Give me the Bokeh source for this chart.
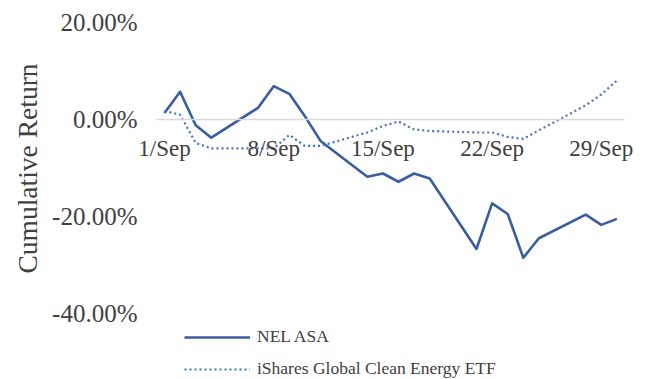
from bokeh.plotting import figure
from bokeh.models import Range1d, FixedTicker, PrintfTickFormatter, Legend, LegendItem, Title
from bokeh.embed import file_html
from bokeh.resources import INLINE

# Trading days of September (day of month)
nel_days = [1, 2, 3, 4, 7, 8, 9, 10, 11, 14, 15, 16, 17, 18, 21, 22, 23, 24, 25, 28, 29, 30]
nel_return = [1.33, 5.71, -1.19, -3.74, 2.42, 6.88, 5.30, 0.68, -4.41, -11.81, -11.13, -12.83,
              -11.13, -12.16, -26.69, -17.29, -19.47, -28.50, -24.48, -19.61, -21.72, -20.49]

etf_days = [1, 2, 3, 4, 8, 9, 10, 11, 14, 15, 16, 17, 18, 21, 22, 23, 24, 25, 28, 29, 30]
etf_return = [1.75, 1.0, -4.83, -5.95, -5.95, -3.18, -5.44, -5.44, -2.67, -1.33, -0.41, -2.05,
              -2.36, -2.67, -2.67, -3.59, -4.0, -2.22, 2.92, 5.17, 8.05]

x_ticks = [1, 8, 15, 22, 29]
x_tick_labels = ["1/Sep", "8/Sep", "15/Sep", "22/Sep", "29/Sep"]
y_ticks = [-40, -20, 0, 20]

series_names = ["NEL ASA", "iShares Global Clean Energy ETF"]
y_title = "Cumulative Return"

FONT = "'Liberation Serif', 'Times New Roman', serif"
TXT = "#404040"

p = figure(width=647, height=379, output_backend="svg", toolbar_location=None,
           x_range=Range1d(-0.731, 31.32), y_range=Range1d(-53.6, 24.54),
           min_border_left=137, min_border_right=10, min_border_top=0, min_border_bottom=0)
p.outline_line_color = None
p.background_fill_color = "white"
p.border_fill_color = "white"
p.xgrid.grid_line_color = None
p.ygrid.grid_line_color = None

# y axis
p.yaxis.ticker = FixedTicker(ticks=y_ticks)
p.yaxis.formatter = PrintfTickFormatter(format="%.2f%%")
p.yaxis.axis_line_color = None
p.yaxis.major_tick_line_color = None
p.yaxis.minor_tick_line_color = None
p.yaxis.major_tick_out = 0
p.yaxis.minor_tick_out = 0
p.yaxis.major_label_text_font = FONT
p.yaxis.major_label_text_font_size = "25px"
p.yaxis.major_label_text_color = TXT
p.yaxis.major_label_standoff = 0

# y axis title, centred on the -40%..20% span
t = Title(text=y_title, align="left", offset=106, standoff=14,
          text_font=FONT, text_font_size="27.5px", text_font_style="normal",
          text_color=TXT)
p.add_layout(t, "left")

# x axis at y = 0
p.xaxis.fixed_location = 0
p.xaxis.bounds = (0.5, 30.5)
p.xaxis.ticker = FixedTicker(ticks=x_ticks)
p.xaxis.major_label_overrides = {t: l for t, l in zip(x_ticks, x_tick_labels)}
p.xaxis.axis_line_color = "#D9D9D9"
p.xaxis.axis_line_width = 1.5
p.xaxis.major_tick_line_color = None
p.xaxis.minor_tick_line_color = None
p.xaxis.major_tick_out = 0
p.xaxis.minor_tick_out = 0
p.xaxis.major_label_text_font = FONT
p.xaxis.major_label_text_font_size = "23px"
p.xaxis.major_label_text_color = TXT
p.xaxis.major_label_standoff = 16

r1 = p.line(nel_days, nel_return, line_color="#3A5DA0", line_width=2.6, line_join="round")
r2 = p.line(etf_days, etf_return, line_color="#4472C4", line_width=2.2, line_dash="2 3")

legend = Legend(items=[LegendItem(label=series_names[0], renderers=[r1]),
                       LegendItem(label=series_names[1], renderers=[r2])],
                location=(47, 0), orientation="vertical")
legend.background_fill_alpha = 0
legend.border_line_color = None
legend.padding = 0
legend.margin = 0
legend.glyph_width = 66
legend.glyph_height = 16
legend.label_height = 16
legend.spacing = 11
legend.label_standoff = 7
legend.label_text_font = FONT
legend.label_text_font_size = "17.5px"
legend.label_text_color = TXT
p.add_layout(legend)

open("out.html", "w").write(file_html(p, INLINE))
